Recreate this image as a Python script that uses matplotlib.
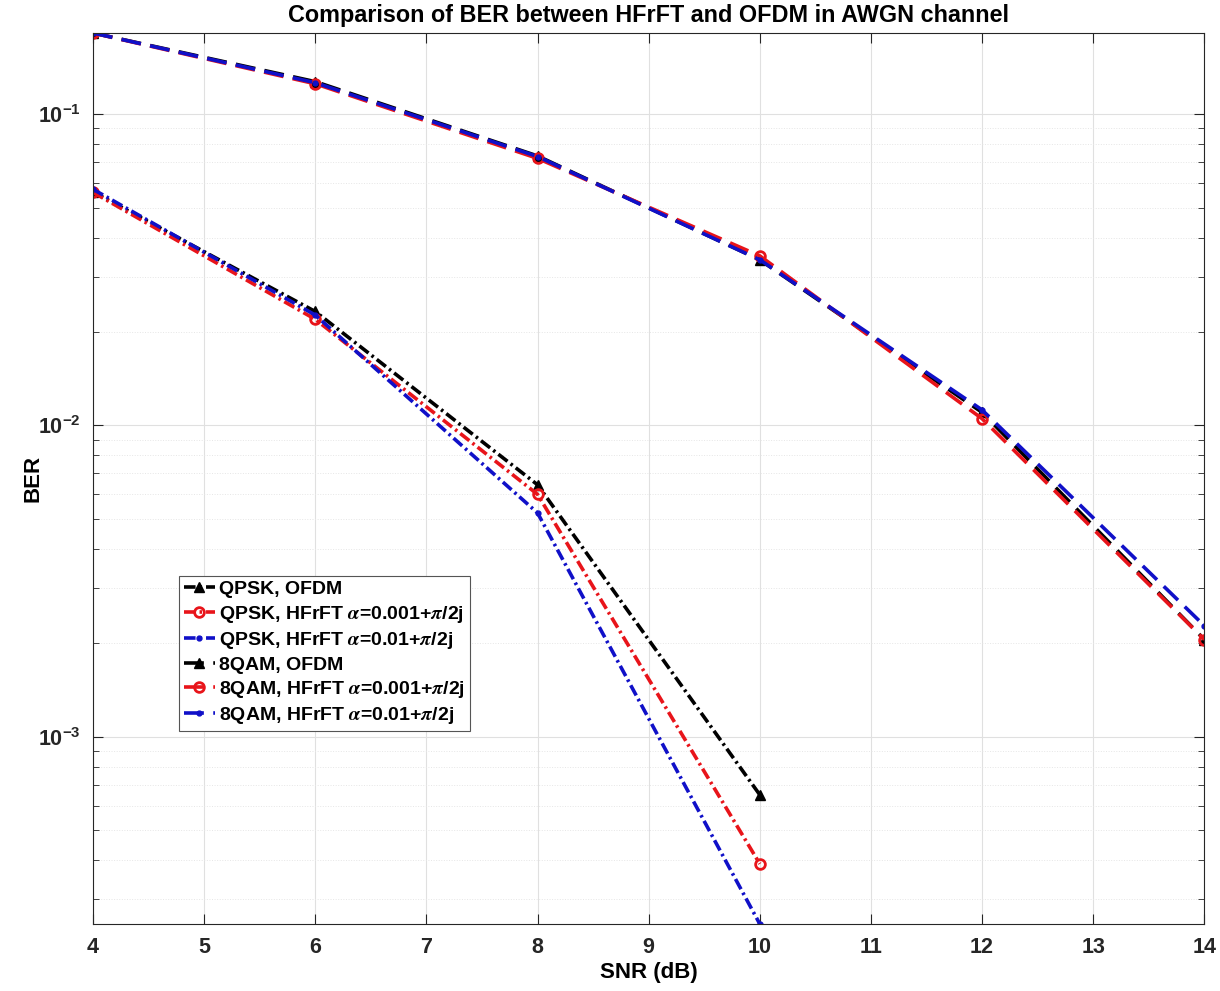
import matplotlib
matplotlib.use('Agg')
import matplotlib.pyplot as plt
import numpy as np

plt.rcParams['font.family'] = ['Liberation Sans', 'DejaVu Sans']
plt.rcParams['font.weight'] = 'bold'
plt.rcParams['mathtext.fontset'] = 'stix'

# SNR points
snr_qpsk = [4, 6, 8, 10]
snr_8qam = [4, 6, 8, 10, 12, 14]

# BER values
qpsk_ofdm = [0.0562, 0.0232, 0.00644, 0.00065]
qpsk_h001 = [0.0560, 0.0219, 0.00600, 0.00039]
qpsk_h01 = [0.0573, 0.0226, 0.00523, 0.00025]

qam_ofdm = [0.182, 0.127, 0.0733, 0.0340, 0.0110, 0.00205]
qam_h001 = [0.182, 0.125, 0.0720, 0.0350, 0.0105, 0.00205]
qam_h01 = [0.182, 0.126, 0.0730, 0.0340, 0.0112, 0.00227]

fig = plt.figure(figsize=(12.2, 9.91), dpi=100)
ax = fig.add_axes([0.0762, 0.0676, 0.911, 0.8991])

lw = 2.6
dd = (0, (3.2, 1.1, 0.7, 1.1))   # dash-dot (QPSK)
da = (0, (5.5, 2.6))            # dashed (8QAM)
red = '#e8141a'
blue = '#1010c8'

ax.plot(snr_qpsk, qpsk_ofdm, ls=dd, color='k', marker='^', ms=7, lw=lw, label='QPSK, OFDM')
ax.plot(snr_qpsk, qpsk_h001, ls=dd, color=red, marker='o', ms=7, mfc='none', mew=2, lw=lw,
        label=r'QPSK, HFrFT $\alpha$=0.001+$\pi$/2j')
ax.plot(snr_qpsk, qpsk_h01, ls=dd, color=blue, marker='.', ms=7, lw=lw,
        label=r'QPSK, HFrFT $\alpha$=0.01+$\pi$/2j')
ax.plot(snr_8qam, qam_ofdm, ls=da, color='k', marker='^', ms=7, lw=lw, label='8QAM, OFDM')
ax.plot(snr_8qam, qam_h001, ls=da, color=red, marker='o', ms=7, mfc='none', mew=2, lw=lw,
        label=r'8QAM, HFrFT $\alpha$=0.001+$\pi$/2j')
ax.plot(snr_8qam, qam_h01, ls=da, color=blue, marker='.', ms=7, lw=lw,
        label=r'8QAM, HFrFT $\alpha$=0.01+$\pi$/2j')

ax.set_yscale('log')
ax.set_xlim(4, 14)
ax.set_ylim(2.5e-4, 0.182)
ax.set_xticks(range(4, 15))

ax.grid(True, which='major', color='#e0e0e0', lw=0.8)
ax.grid(True, which='minor', axis='y', color='#e6e6e6', lw=0.7, ls=':')
ax.tick_params(which='both', direction='in', top=True, right=True, labelsize=15.5,
               colors='#262626', pad=9)
ax.tick_params(which='major', length=7)
ax.tick_params(which='minor', length=4)
for s in ax.spines.values():
    s.set_color('#262626')
    s.set_linewidth(0.8)
for lab in ax.get_xticklabels() + ax.get_yticklabels():
    lab.set_fontweight('bold')

ax.set_xlabel('SNR (dB)', fontsize=16, fontweight='bold', labelpad=3)
ax.set_ylabel('BER', fontsize=16, fontweight='bold', labelpad=-4)
ax.set_title('Comparison of BER between HFrFT and OFDM in AWGN channel', fontsize=16.8,
             fontweight='bold', pad=8)

leg = ax.legend(loc='lower left', bbox_to_anchor=(0.0774, 0.2166),
                prop={'weight': 'bold', 'size': 14}, fancybox=False, framealpha=1,
                edgecolor='#555555', handlelength=1.6, handletextpad=0.2,
                borderaxespad=0, labelspacing=0.27, borderpad=0.25)
leg.get_frame().set_linewidth(0.8)

fig.savefig('out.png', dpi=100)
